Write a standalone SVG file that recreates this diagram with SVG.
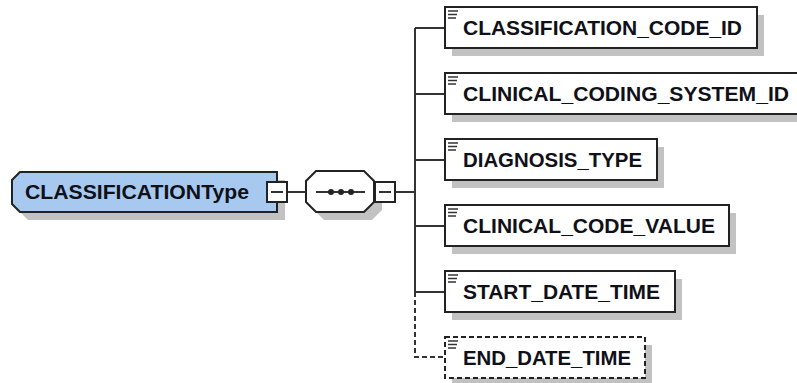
<svg xmlns="http://www.w3.org/2000/svg" width="797" height="383" viewBox="0 0 797 383">
<style>
.shadow{fill:#c2c2c2;stroke:none}
.box{fill:#ffffff;stroke:#222222;stroke-width:2}
.dbox{fill:#ffffff;stroke:#222222;stroke-width:2;stroke-dasharray:5,3}
.main{fill:#a7c9f0;stroke:#222222;stroke-width:2}
.lbl{font-family:"Liberation Sans",Arial,sans-serif;font-weight:bold;font-size:21px;fill:#101018}
.mlbl{font-family:"Liberation Sans",Arial,sans-serif;font-weight:bold;font-size:20px;fill:#101018}
.conn{stroke:#333333;stroke-width:2;fill:none}
.dconn{stroke:#333333;stroke-width:2;fill:none;stroke-dasharray:5,3}
.ico{stroke:#333333;stroke-width:1.5}
</style>
<defs>
<g id="icon"><line class="ico" x1="3" y1="4" x2="13" y2="4"/><line class="ico" x1="3" y1="7.5" x2="12" y2="7.5"/><line class="ico" x1="3" y1="11" x2="11" y2="11"/></g>
</defs>
<g id="connectors">
<line class="conn" x1="287" y1="192" x2="306" y2="192"/>
<line class="conn" x1="395" y1="192" x2="415" y2="192"/>
<line class="conn" x1="415" y1="28" x2="415" y2="292"/>
<line class="conn" x1="415" y1="28" x2="445" y2="28"/>
<line class="conn" x1="415" y1="94" x2="445" y2="94"/>
<line class="conn" x1="415" y1="160" x2="445" y2="160"/>
<line class="conn" x1="415" y1="226" x2="445" y2="226"/>
<line class="conn" x1="415" y1="292" x2="445" y2="292"/>
<path class="dconn" d="M415,292 V357 H445"/>
</g>
<g id="CLASSIFICATIONType">
<path class="shadow" d="M28,180 H285 V220 H28 L20,212 V188 Z"/>
<path class="main" d="M20,172 H277 V212 H20 L12,204 V180 Z"/>
<text class="mlbl" x="25" y="199" textLength="224" lengthAdjust="spacingAndGlyphs">CLASSIFICATIONType</text>
<rect class="box" x="267" y="182" width="20" height="20"/>
<line class="conn" x1="271" y1="192" x2="283" y2="192"/>
</g>
<g id="sequence">
<path class="shadow" d="M324,179 H372 L382,189 V210 L372,220 H324 L314,210 V189 Z"/>
<path class="box" d="M316,171 H364 L374,181 V202 L364,212 H316 L306,202 V181 Z"/>
<line class="conn" x1="316" y1="192" x2="365" y2="192"/>
<circle cx="331" cy="192" r="3" fill="#222"/>
<circle cx="341" cy="192" r="3" fill="#222"/>
<circle cx="351" cy="192" r="3" fill="#222"/>
<rect class="box" x="375" y="182" width="20" height="20"/>
<line class="conn" x1="379" y1="192" x2="391" y2="192"/>
</g>
<g id="CLASSIFICATION_CODE_ID">
<rect class="shadow" x="452" y="15" width="312" height="41"/>
<rect class="box" x="445" y="7" width="312" height="41"/>
<use href="#icon" x="445" y="7"/>
<text class="lbl" x="463" y="35" textLength="279" lengthAdjust="spacingAndGlyphs">CLASSIFICATION_CODE_ID</text>
</g>
<g id="CLINICAL_CODING_SYSTEM_ID">
<rect class="shadow" x="452" y="81" width="360" height="41"/>
<rect class="box" x="445" y="73" width="360" height="41"/>
<use href="#icon" x="445" y="73"/>
<text class="lbl" x="463" y="101" textLength="326" lengthAdjust="spacingAndGlyphs">CLINICAL_CODING_SYSTEM_ID</text>
</g>
<g id="DIAGNOSIS_TYPE">
<rect class="shadow" x="452" y="147" width="212" height="41"/>
<rect class="box" x="445" y="139" width="212" height="41"/>
<use href="#icon" x="445" y="139"/>
<text class="lbl" x="463" y="167" textLength="179" lengthAdjust="spacingAndGlyphs">DIAGNOSIS_TYPE</text>
</g>
<g id="CLINICAL_CODE_VALUE">
<rect class="shadow" x="452" y="213" width="284" height="41"/>
<rect class="box" x="445" y="205" width="284" height="41"/>
<use href="#icon" x="445" y="205"/>
<text class="lbl" x="463" y="233" textLength="252" lengthAdjust="spacingAndGlyphs">CLINICAL_CODE_VALUE</text>
</g>
<g id="START_DATE_TIME">
<rect class="shadow" x="452" y="279" width="230" height="41"/>
<rect class="box" x="445" y="271" width="230" height="41"/>
<use href="#icon" x="445" y="271"/>
<text class="lbl" x="463" y="299" textLength="197" lengthAdjust="spacingAndGlyphs">START_DATE_TIME</text>
</g>
<g id="END_DATE_TIME">
<rect class="shadow" x="452" y="345" width="200" height="41"/>
<rect class="dbox" x="445" y="337" width="200" height="41"/>
<use href="#icon" x="445" y="337"/>
<text class="lbl" x="463" y="365" textLength="168" lengthAdjust="spacingAndGlyphs">END_DATE_TIME</text>
</g>
</svg>
